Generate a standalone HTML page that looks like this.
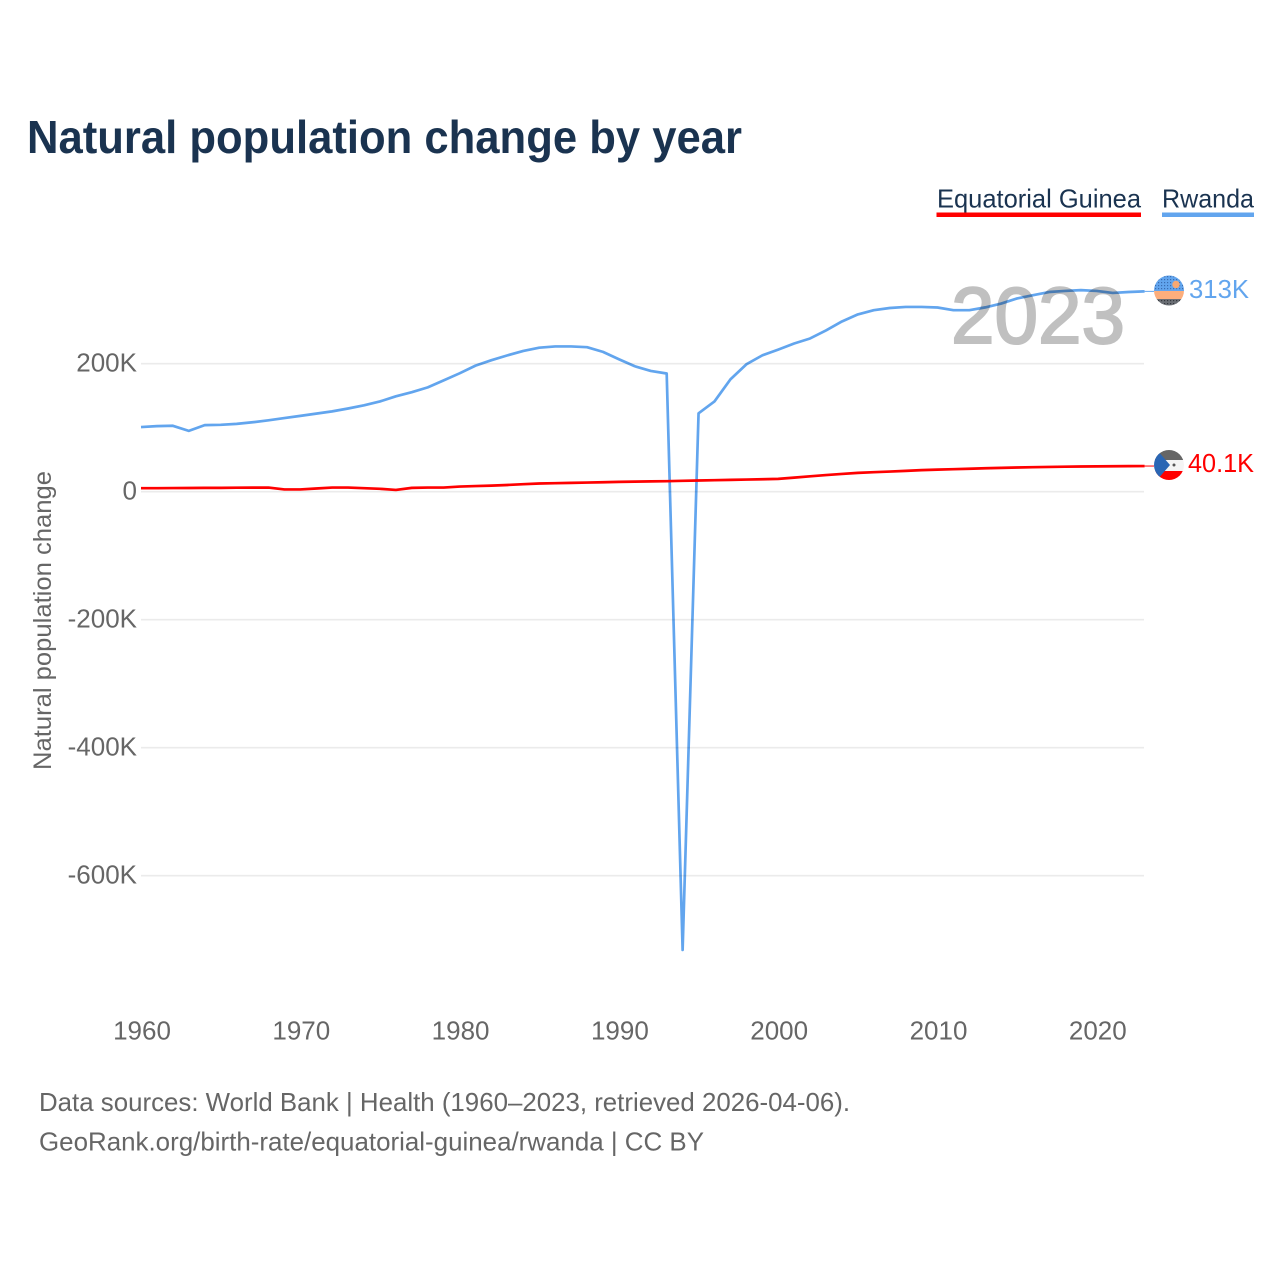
<!DOCTYPE html>
<html lang="en">
<head>
<meta charset="utf-8">
<title>Natural population change by year</title>
<style>
html,body{margin:0;padding:0;background:#fff;width:1280px;height:1280px;overflow:hidden}
svg{display:block;font-family:"Liberation Sans",sans-serif}
</style>
</head>
<body>
<svg id="chart" xmlns="http://www.w3.org/2000/svg" width="1280" height="1280" viewBox="0 0 1280 1280">
  <rect width="1280" height="1280" fill="#ffffff"/>
  <text x="27" y="153" font-size="46" font-weight="700" fill="#1a3350" textLength="715" lengthAdjust="spacingAndGlyphs">Natural population change by year</text>

  <text x="937" y="207.500" font-size="26" fill="#1a3350" textLength="204" lengthAdjust="spacingAndGlyphs">Equatorial Guinea</text>
  <rect x="936.500" y="212.500" width="204.500" height="4.500" fill="#ff0000"/>
  <text x="1162" y="207.500" font-size="26" fill="#1a3350" textLength="92" lengthAdjust="spacingAndGlyphs">Rwanda</text>
  <rect x="1162" y="212.500" width="92" height="4.500" fill="#62a5ee"/>

  <g id="grid"></g>
  <g id="yticks"></g>
  <g id="xticks"></g>

  <text transform="translate(51,770) rotate(-90)" font-size="25" fill="#666666" textLength="299" lengthAdjust="spacingAndGlyphs">Natural population change</text>

  <text x="951" y="343" font-size="80" font-weight="400" fill="#c0c0c0" stroke="#c0c0c0" stroke-width="2" textLength="174" lengthAdjust="spacingAndGlyphs">2023</text>

  <g id="series"></g>

  <defs>
    <clipPath id="flag-clip-rw"><circle cx="1169" cy="290.500" r="15"/></clipPath>
    <clipPath id="flag-clip-gq"><circle cx="1169" cy="465" r="15"/></clipPath>
    <pattern id="flag-dots-blue" width="3" height="3" patternUnits="userSpaceOnUse"><rect width="3" height="3" fill="#62a5ee"/><rect width="1.200" height="1.200" fill="#3a6cb0"/></pattern>
    <pattern id="flag-dots-dark" width="3" height="3" patternUnits="userSpaceOnUse"><rect width="3" height="3" fill="#6a6e74"/><rect width="1.200" height="1.200" fill="#33363c"/></pattern>
  </defs>
  <g clip-path="url(#flag-clip-rw)">
    <rect x="1154" y="275" width="30" height="16" fill="url(#flag-dots-blue)"/>
    <rect x="1154" y="291" width="30" height="8" fill="#fcae7c"/>
    <rect x="1154" y="299" width="30" height="8" fill="url(#flag-dots-dark)"/>
    <circle cx="1176" cy="284.500" r="3.700" fill="#f7a872"/>
  </g>
  <text id="label-rw" x="1189" y="298" font-size="26" fill="#62a5ee" textLength="60" lengthAdjust="spacingAndGlyphs">313K</text>

  <g clip-path="url(#flag-clip-gq)">
    <rect x="1154" y="450" width="30" height="10" fill="#666666"/>
    <rect x="1154" y="460" width="30" height="11" fill="#f4f4f4"/>
    <rect x="1154" y="471" width="30" height="10" fill="#ff0000"/>
    <polygon points="1154,450 1157,450 1170,465 1157,480 1154,480" fill="#2a66b4"/>
    <circle cx="1174" cy="465" r="1.500" fill="#555555"/>
  </g>
  <text id="label-gq" x="1188" y="472" font-size="26" fill="#ff0000" textLength="66" lengthAdjust="spacingAndGlyphs">40.1K</text>

  <text x="39" y="1111" font-size="26" fill="#666666" textLength="811" lengthAdjust="spacingAndGlyphs">Data sources: World Bank | Health (1960–2023, retrieved 2026-04-06).</text>
  <text x="39" y="1150.500" font-size="26" fill="#666666" textLength="665" lengthAdjust="spacingAndGlyphs">GeoRank.org/birth-rate/equatorial-guinea/rwanda | CC BY</text>
</svg>
<script>
const firstYear = 1960;
const xTickYears = [1960, 1970, 1980, 1990, 2000, 2010, 2020];
const yTickValues = [200, 0, -200, -400, -600];
const yTickLabels = ["200K", "0", "-200K", "-400K", "-600K"];
const rwandaValues = [101, 102.5, 103, 95, 104, 104.5, 106, 108.5, 111.5, 115, 118.5, 122, 125.5, 130, 135, 141, 149, 155.5, 163, 174, 185, 197, 205.5, 213, 220, 225, 227, 227, 225.8, 218.5, 207, 196, 188.7, 184.7, -716, 122.5, 141, 175.5, 199, 213, 222, 231.6, 239.4, 252, 266, 277, 283.6, 287, 288.7, 288.7, 287.8, 283.6, 283.6, 288, 294, 302, 307, 312, 313.7, 315, 313.7, 310.6, 312, 313];
const guineaValues = [5.5, 5.5, 5.7, 5.8, 6, 6, 6.3, 6.4, 6.5, 3.5, 3.5, 5, 6.5, 6.5, 5.5, 4.5, 2.8, 6, 6.5, 6.5, 8, 8.8, 9.5, 10.5, 11.7, 12.8, 13.3, 13.8, 14.3, 14.8, 15.3, 15.7, 16.1, 16.4, 17, 17.5, 18, 18.5, 19, 19.5, 20, 22, 24, 26, 27.8, 29.4, 30.5, 31.5, 32.6, 33.7, 34.5, 35.2, 35.9, 36.6, 37.2, 37.8, 38.3, 38.7, 39.1, 39.4, 39.6, 39.8, 40, 40.1];

const NS = "http://www.w3.org/2000/svg";
const xScale = function (year) { return 141 + (year - 1960) * 15.93; };
const yScale = function (value) { return 491.7 - value * 0.64; };

const grid = document.getElementById("grid");
const yticks = document.getElementById("yticks");
const xticks = document.getElementById("xticks");
const series = document.getElementById("series");

yTickValues.forEach(function (v, i) {
  const line = document.createElementNS(NS, "line");
  
  
  line.setAttribute("x1", 141);
  line.setAttribute("x2", 1144);
  line.setAttribute("y1", yScale(v));
  line.setAttribute("y2", yScale(v));
  line.setAttribute("stroke", "#ebebeb");
  line.setAttribute("stroke-width", "1.6");
  grid.appendChild(line);

  const label = document.createElementNS(NS, "text");
  
  
  label.setAttribute("x", 137);
  label.setAttribute("y", yScale(v) + 8);
  label.setAttribute("text-anchor", "end");
  label.setAttribute("font-size", "26");
  label.setAttribute("fill", "#666666");
  label.textContent = yTickLabels[i];
  yticks.appendChild(label);
});

xTickYears.forEach(function (y) {
  const label = document.createElementNS(NS, "text");
  
  
  label.setAttribute("x", xScale(y) + 1);
  label.setAttribute("y", 1039.5);
  label.setAttribute("text-anchor", "middle");
  label.setAttribute("font-size", "26");
  label.setAttribute("fill", "#666666");
  label.textContent = String(y);
  xticks.appendChild(label);
});

function pathFor(values) {
  return values.map(function (v, i) {
    return (i === 0 ? "M" : "L") + xScale(firstYear + i).toFixed(2) + " " + yScale(v).toFixed(2);
  }).join(" ");
}

const rwandaLine = document.createElementNS(NS, "path");


rwandaLine.setAttribute("d", pathFor(rwandaValues));
rwandaLine.setAttribute("fill", "none");
rwandaLine.setAttribute("stroke", "#62a5ee");
rwandaLine.setAttribute("stroke-width", "2.7");
rwandaLine.setAttribute("stroke-linejoin", "round");
rwandaLine.setAttribute("style", "mix-blend-mode:multiply");
series.appendChild(rwandaLine);

const guineaLine = document.createElementNS(NS, "path");


guineaLine.setAttribute("d", pathFor(guineaValues));
guineaLine.setAttribute("fill", "none");
guineaLine.setAttribute("stroke", "#ff0000");
guineaLine.setAttribute("stroke-width", "2.7");
guineaLine.setAttribute("stroke-linejoin", "round");
series.appendChild(guineaLine);

const rwandaConnector = document.createElementNS(NS, "line");


rwandaConnector.setAttribute("x1", xScale(2023));
rwandaConnector.setAttribute("x2", 1154);
rwandaConnector.setAttribute("y1", yScale(rwandaValues[rwandaValues.length - 1]));
rwandaConnector.setAttribute("y2", yScale(rwandaValues[rwandaValues.length - 1]));
rwandaConnector.setAttribute("stroke", "#62a5ee");
rwandaConnector.setAttribute("stroke-width", "1");
series.appendChild(rwandaConnector);

const guineaConnector = document.createElementNS(NS, "line");


guineaConnector.setAttribute("x1", xScale(2023));
guineaConnector.setAttribute("x2", 1154);
guineaConnector.setAttribute("y1", yScale(guineaValues[guineaValues.length - 1]));
guineaConnector.setAttribute("y2", yScale(guineaValues[guineaValues.length - 1]));
guineaConnector.setAttribute("stroke", "#ff0000");
guineaConnector.setAttribute("stroke-width", "1");
series.appendChild(guineaConnector);
</script>
</body>
</html>
